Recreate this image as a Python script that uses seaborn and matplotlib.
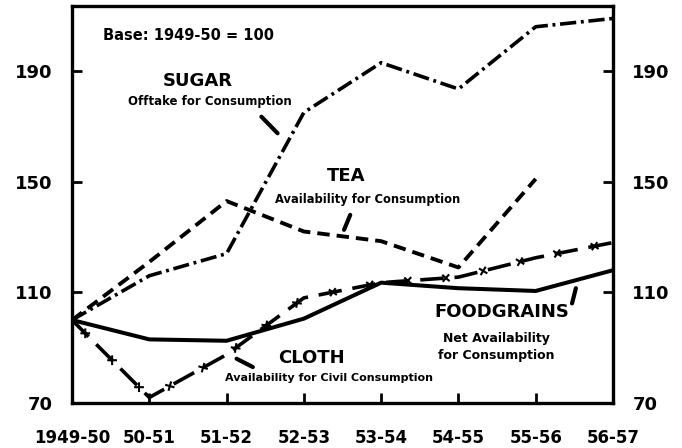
import numpy as np
import pandas as pd
import matplotlib
matplotlib.use("Agg")
import matplotlib.pyplot as plt
import matplotlib.patheffects as pe
import seaborn as sns

# index numbers, base 1949-50 = 100
periods = ["1949-50", "50-51", "51-52", "52-53", "53-54", "54-55", "55-56", "56-57"]
sugar = [100, 116, 124, 175, 193, 183.5, 206, 209]
tea = [100, 121, 143, 132, 128.5, 119, 151, np.nan]
foodgrains = [100, 93, 92.5, 100.5, 113.5, 111.5, 110.5, 118]
cloth = [100, 72, 87.5, 108, 113.5, 115.5, 122.5, 128]
yticks = [70, 110, 150, 190]

sns.set_style("white")
plt.rcParams["font.family"] = ["DejaVu Sans"]
plt.rcParams["font.weight"] = "bold"
plt.rcParams["text.color"] = "black"
plt.rcParams["xtick.color"] = "black"
plt.rcParams["ytick.color"] = "black"

df = pd.DataFrame({"pos": np.arange(len(periods)), "period": periods,
                   "sugar": sugar, "tea": tea,
                   "foodgrains": foodgrains, "cloth": cloth})

fig = plt.figure(figsize=(6.82, 4.48), dpi=100)
ax = fig.add_axes([0.1056, 0.1004, 0.7932, 0.8862])

lw = 2.6
sns.lineplot(data=df, x="pos", y="sugar", ax=ax, color="black", lw=lw,
             linestyle=(0, (4.5, 1.3, 0.8, 1.3)), estimator=None)
sns.lineplot(data=df, x="pos", y="tea", ax=ax, color="black", lw=lw + 0.2,
             linestyle=(0, (3.2, 1.8)), estimator=None)
sns.lineplot(data=df, x="pos", y="foodgrains", ax=ax, color="black", lw=lw + 0.3,
             linestyle="-", estimator=None)

# cloth: dashed line with little crosses along it
xs = dict(spacing=27, length=0.13, linewidth=1.5,
          dashes=dict(dash_offset=0, dash_list=None))
crosses = [pe.TickedStroke(angle=a, **xs) for a in (45, -135, 135, -45)]
sns.lineplot(data=df, x="pos", y="cloth", ax=ax, color="black", lw=lw,
             linestyle=(0, (6.5, 3.0)), estimator=None,
             path_effects=[pe.Normal()] + crosses)

ax.set_xlim(0, len(periods) - 1)
ax.set_ylim(70, 213.5)
ax.set_xticks(df["pos"])
ax.set_xticklabels(periods)
ax.set_yticks(yticks)
ax.set_xlabel("")
ax.set_ylabel("")

ax.tick_params(axis="y", direction="in", length=7, width=2, left=True, right=True,
               labelleft=True, labelright=True, labelsize=13, pad=14)
ax.tick_params(axis="x", direction="in", length=7, width=2, bottom=True,
               labelsize=12, pad=19)
for s in ax.spines.values():
    s.set_color("black")
    s.set_linewidth(2.4)

# labels
ax.text(1.51, 203, "Base: 1949-50 = 100", ha="center", va="center", fontsize=10.5)
ax.text(1.63, 186.3, "SUGAR", ha="center", va="center", fontsize=13)
ax.text(1.78, 179, "Offtake for Consumption", ha="center", va="center", fontsize=8.5)
ax.text(3.55, 152.2, "TEA", ha="center", va="center", fontsize=13)
ax.text(3.82, 143.7, "Availability for Consumption", ha="center", va="center", fontsize=8.3)
ax.text(3.1, 86.3, "CLOTH", ha="center", va="center", fontsize=13)
ax.text(3.33, 79, "Availability for Civil Consumption", ha="center", va="center", fontsize=8)
ax.text(5.56, 102.8, "FOODGRAINS", ha="center", va="center", fontsize=13)
ax.text(5.49, 93.5, "Net Availability", ha="center", va="center", fontsize=9)
ax.text(5.49, 87.1, "for Consumption", ha="center", va="center", fontsize=9)

# little pointers from labels to lines
pointer = dict(arrowstyle="-", lw=3, color="black", shrinkA=0, shrinkB=0)
ax.annotate("", xy=(2.66, 167.5), xytext=(2.45, 173.5), arrowprops=pointer)
ax.annotate("", xy=(3.52, 132.6), xytext=(3.6, 138), arrowprops=pointer)
ax.annotate("", xy=(2.34, 83), xytext=(2.13, 86), arrowprops=pointer)
ax.annotate("", xy=(6.47, 106), xytext=(6.52, 111.5), arrowprops=pointer)

fig.savefig("out.png", dpi=100)
